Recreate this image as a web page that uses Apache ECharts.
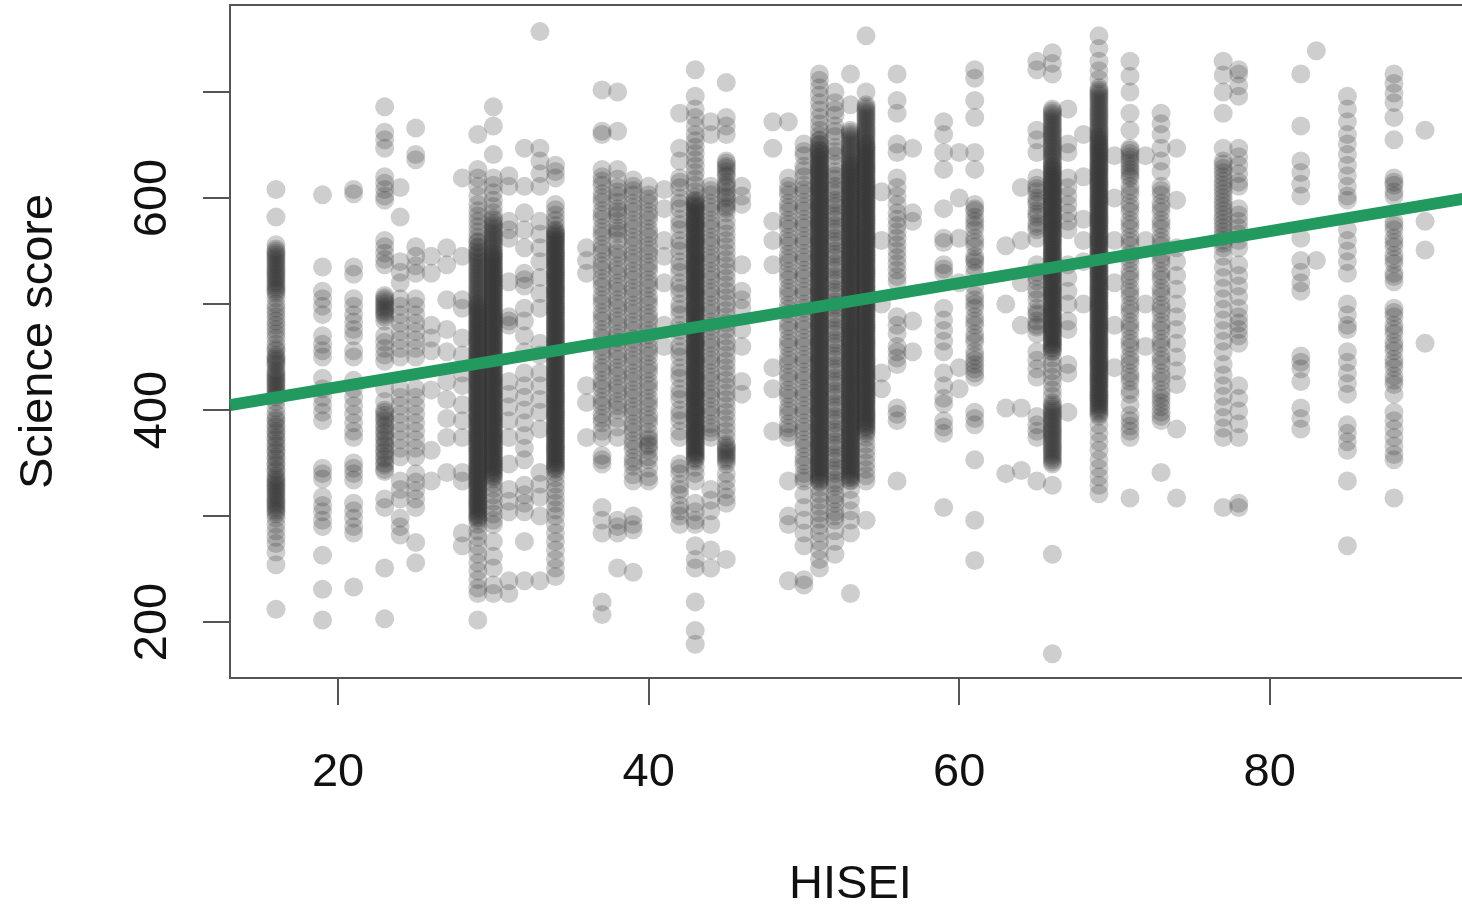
<!DOCTYPE html>
<html>
<head>
<meta charset="utf-8">
<script src="https://cdn.jsdelivr.net/npm/echarts@6/dist/echarts.min.js"></script>
<style>
  html, body { margin: 0; padding: 0; background: #fff; }
  #chart { width: 1462px; height: 906px; }
</style>
</head>
<body>
<div id="chart"></div>
<script>
// HISEI columns (x) and the science scores
const hisei = [16, 19, 21, 23, 24, 25, 26, 27, 28, 29, 30, 31, 32, 33, 34, 36, 37, 38, 39, 40,
  41, 42, 43, 44, 45, 46, 48, 49, 50, 51, 52, 53, 54, 55, 56, 57, 59, 60, 61, 63,
  64, 65, 66, 67, 68, 69, 70, 71, 72, 73, 74, 77, 78, 82, 83, 85, 88, 90];

const scores = [
  // 16
  [608, 582, 556, 552, 548, 544, 540, 536, 532, 528, 524, 520, 516, 512, 506, 500, 492, 484, 476, 468, 462, 456, 450, 446, 442, 438, 434, 430, 426, 422, 418, 414, 408, 402, 396, 390, 384, 378, 372, 366, 360, 354, 348, 342, 338, 334, 330, 326, 322, 318, 314, 310, 306, 302, 298, 292, 286, 280, 274, 266, 254, 212,
   550, 546, 542, 538, 534, 530, 526, 522, 518, 514, 510, 436, 432, 428, 424, 420, 416, 412, 336, 332, 328, 324, 320, 316, 312, 308, 304,
   496, 488, 480, 472, 458, 452, 448, 444, 392, 386, 380, 374, 368, 362, 356, 350, 344],
  // 19
  [603, 535, 512, 505, 498, 490, 470, 462, 456, 450, 430, 420, 412, 405, 398, 390, 345, 340, 335, 318, 310, 304, 296, 290, 263, 231, 202],
  // 21
  [608, 604, 535, 528, 505, 498, 490, 483, 476, 470, 456, 450, 428, 420, 412, 404, 396, 388, 380, 374, 350, 345, 340, 334, 312, 305, 298, 290, 284, 233],
  // 23
  [686, 662, 655, 647, 620, 614, 608, 602, 598, 560, 554, 548, 542, 537, 508, 504, 500, 496, 492, 488, 484, 470, 464, 458, 452, 446, 420, 408, 400, 395, 390, 384, 378, 372, 366, 360, 354, 348, 342, 316, 308, 251, 203,
   506, 502, 498, 494, 490, 398, 392, 386, 380, 374, 368, 362, 356, 350, 344],
  // 24
  [610, 582, 540, 530, 520, 505, 498, 490, 482, 474, 466, 458, 450, 420, 412, 404, 396, 388, 380, 372, 364, 356, 333, 325, 316, 298, 290, 282],
  // 25
  [666, 641, 636, 554, 545, 536, 529, 505, 498, 490, 482, 474, 466, 458, 450, 420, 412, 404, 396, 388, 380, 372, 364, 356, 340, 332, 324, 316, 308, 275, 256],
  // 26
  [545, 529, 480, 468, 456, 419, 362, 333],
  // 27
  [553, 537, 504, 476, 455, 427, 410, 392, 374, 341],
  // 28
  [619, 545, 504, 496, 468, 452, 435, 423, 405, 390, 374, 341, 333, 284, 272],
  // 29
  [660, 627, 619, 611, 602, 594, 588, 583, 578, 573, 568, 563, 558, 553, 548, 544, 540, 536, 532, 528, 524, 520, 516, 512, 508, 504, 500, 497, 494, 491, 488, 485, 482, 479, 476, 473, 470, 467, 464, 461, 458, 455, 452, 449, 446, 443, 440, 437, 434, 431, 428, 425, 422, 419, 416, 413, 410, 407, 404, 401, 398, 395, 392, 389, 386, 383, 380, 377, 374, 371, 368, 365, 362, 359, 356, 353, 350, 347, 344, 341, 338, 335, 332, 329, 326, 323, 320, 317, 314, 311, 308, 305, 302, 299, 296, 292, 286, 280, 272, 264, 256, 248, 240, 232, 227, 202,
   559, 554, 550, 546, 542, 538, 534, 530, 526, 522, 518, 514, 510, 506, 502, 499, 496, 493, 490, 487, 484, 481, 478, 475, 472, 469, 466, 463, 460, 457, 454, 451, 448, 445, 442, 439, 436, 433, 430, 427, 424, 421, 418, 415, 412, 409, 406, 403, 400, 397, 394, 391, 388, 385, 382, 379, 376, 373, 370, 367, 364, 361, 358, 355, 352, 349, 346, 343, 340, 337, 334, 331, 328, 325, 322, 319, 316, 313, 310, 307, 304, 301, 298],
  // 30
  [686, 668, 641, 619, 612, 605, 598, 592, 586, 581, 576, 572, 568, 564, 560, 556, 552, 548, 545, 542, 539, 536, 533, 530, 527, 524, 521, 518, 515, 512, 509, 506, 503, 500, 497, 494, 491, 488, 485, 482, 479, 476, 473, 470, 467, 464, 461, 458, 455, 452, 449, 446, 443, 440, 437, 434, 431, 428, 425, 422, 419, 416, 413, 410, 407, 404, 401, 398, 395, 392, 389, 386, 383, 380, 377, 374, 371, 368, 365, 362, 359, 356, 353, 350, 347, 344, 341, 338, 335, 331, 326, 320, 314, 308, 302, 296, 292, 276, 262, 251, 235, 227,
   579, 574, 570, 566, 562, 558, 554, 550, 547, 544, 541, 538, 535, 532, 529, 526, 523, 520, 517, 514, 511, 508, 505, 502, 499, 496, 493, 490, 487, 484, 481, 478, 475, 472, 469, 466, 463, 460, 457, 454, 451, 448, 445, 442, 439, 436, 433, 430, 427, 424, 421, 418, 415, 412, 409, 406, 403, 400, 397, 394, 391, 388, 385, 382, 379, 376, 373, 370, 367, 364, 361, 358, 355, 352, 349, 346, 343, 340, 337],
  // 31
  [621, 611, 578, 570, 562, 521, 488, 484, 480, 427, 415, 403, 390, 374, 349, 325, 314, 304, 239, 227],
  // 32
  [647, 611, 586, 570, 553, 529, 523, 517, 496, 484, 470, 455, 435, 423, 412, 400, 388, 376, 364, 353, 329, 320, 312, 304, 276, 239],
  // 33
  [757, 647, 635, 623, 611, 578, 566, 553, 540, 525, 510, 496, 463, 452, 435, 423, 410, 398, 382, 341, 330, 318, 300, 239],
  // 34
  [631, 625, 619, 594, 589, 584, 579, 574, 570, 567, 564, 561, 558, 555, 552, 549, 546, 543, 540, 537, 534, 531, 528, 525, 522, 519, 516, 513, 510, 507, 504, 501, 498, 495, 492, 489, 486, 483, 480, 477, 474, 471, 468, 465, 462, 459, 456, 453, 450, 447, 444, 441, 438, 435, 432, 429, 426, 423, 420, 417, 414, 411, 408, 405, 402, 399, 396, 393, 390, 387, 384, 381, 378, 375, 372, 369, 366, 363, 360, 357, 354, 351, 348, 345, 341, 336, 330, 324, 318, 312, 306, 300, 292, 284, 276, 268, 259, 251, 243,
   569, 566, 563, 560, 557, 554, 551, 548, 545, 542, 539, 536, 533, 530, 527, 524, 521, 518, 515, 512, 509, 506, 503, 500, 497, 494, 491, 488, 485, 482, 479, 476, 473, 470, 467, 464, 461, 458, 455, 452, 449, 446, 443, 440, 437, 434, 431, 428, 425, 422, 419, 416, 413, 410, 407, 404, 401, 398, 395, 392, 389, 386, 383, 380, 377, 374, 371, 368, 365, 362, 359, 356, 353, 350, 347, 344],
  // 36
  [553, 541, 529, 423, 407, 374],
  // 37
  [702, 663, 660, 627, 620, 612, 604, 596, 588, 580, 572, 564, 556, 548, 540, 532, 524, 516, 508, 500, 492, 484, 476, 468, 460, 452, 444, 436, 428, 420, 412, 404, 396, 388, 380, 374, 357, 353, 349, 308, 296, 284, 219, 207,
   616, 600, 584, 568, 552, 536, 520, 504, 488, 472, 456, 440, 424, 408, 392],
  // 38
  [700, 663, 627, 618, 610, 602, 596, 590, 584, 578, 572, 566, 560, 552, 544, 536, 528, 520, 512, 504, 496, 488, 480, 472, 464, 456, 448, 440, 432, 424, 416, 408, 400, 392, 384, 374, 296, 290, 284, 251,
   606, 587, 569, 548, 532, 516, 500, 484, 468, 452, 436, 420, 404],
  // 39
  [617, 611, 603, 595, 587, 579, 571, 563, 555, 547, 539, 531, 523, 515, 507, 499, 491, 483, 475, 467, 459, 451, 443, 435, 427, 419, 411, 403, 395, 387, 379, 371, 363, 355, 347, 339, 333, 300, 292, 287, 247,
   607, 591, 575, 559, 543, 527, 511, 495, 479, 463, 447, 431, 415, 399, 383, 367, 351],
  // 40
  [611, 603, 595, 587, 579, 571, 563, 555, 547, 539, 531, 523, 515, 507, 499, 491, 483, 475, 467, 459, 451, 443, 435, 427, 419, 411, 403, 395, 387, 379, 374, 368, 362, 356, 353, 345, 337, 333,
   599, 583, 567, 551, 535, 519, 503, 487, 471, 455, 439, 423, 407, 391, 372, 366],
  // 41
  [608, 590, 560, 545, 520, 480, 460],
  // 42
  [680, 647, 635, 619, 610, 600, 590, 580, 570, 560, 550, 540, 530, 520, 510, 500, 490, 480, 470, 460, 450, 440, 430, 420, 410, 400, 390, 380, 374, 349, 340, 330, 320, 310, 300, 292,
   615, 595, 575, 555, 535, 515, 495, 475, 455, 435, 415, 395, 345, 325, 305],
  // 43
  [721, 696, 684, 676, 668, 660, 654, 648, 642, 636, 630, 624, 618, 612, 606, 601, 598, 595, 592, 589, 586, 583, 580, 577, 574, 571, 568, 565, 562, 559, 556, 553, 550, 547, 544, 541, 538, 535, 532, 529, 526, 523, 520, 517, 514, 511, 508, 505, 502, 499, 496, 493, 490, 487, 484, 481, 478, 475, 472, 469, 466, 463, 460, 457, 454, 451, 448, 445, 442, 439, 436, 433, 430, 427, 424, 421, 418, 415, 412, 409, 406, 403, 400, 397, 394, 391, 388, 385, 382, 379, 376, 373, 370, 367, 364, 361, 358, 355, 352, 346, 340, 333, 312, 304, 296, 292, 272, 259, 251, 219, 192, 179,
   597, 594, 591, 588, 585, 582, 579, 576, 573, 570, 567, 564, 561, 558, 555, 552, 549, 546, 543, 540, 537, 534, 531, 528, 525, 522, 519, 516, 513, 510, 507, 504, 501, 498, 495, 492, 489, 486, 483, 480, 477, 474, 471, 468, 465, 462, 459, 456, 453, 450, 447, 444, 441, 438, 435, 432, 429, 426, 423, 420, 417, 414, 411, 408, 405, 402, 399, 396, 393, 390, 387, 384, 381, 378, 375, 372, 369, 366, 363, 360, 357, 354],
  // 44
  [672, 660, 611, 603, 595, 587, 579, 571, 563, 555, 547, 539, 531, 523, 515, 507, 499, 491, 483, 475, 467, 459, 451, 443, 435, 427, 419, 411, 403, 395, 387, 379, 374, 325, 315, 305, 292, 268, 251,
   607, 591, 575, 559, 543, 527, 511, 495, 479, 463, 447, 431, 415, 399, 383],
  // 45
  [709, 676, 668, 660, 635, 630, 625, 620, 615, 610, 605, 600, 595, 590, 586, 578, 572, 566, 560, 554, 548, 542, 536, 530, 524, 518, 512, 506, 500, 494, 488, 482, 476, 470, 464, 458, 452, 446, 440, 434, 428, 422, 416, 410, 404, 398, 392, 386, 380, 374, 368, 366, 362, 358, 354, 349, 340, 333, 325, 318, 312, 259,
   633, 628, 622, 612, 602, 592, 364, 360, 356, 352],
  // 46
  [611, 602, 594, 537, 512, 504, 496, 476, 460, 427, 415],
  // 48
  [672, 647, 578, 560, 537, 440, 420, 380],
  // 49
  [672, 619, 611, 603, 595, 587, 579, 571, 563, 555, 547, 539, 531, 523, 515, 507, 499, 491, 483, 475, 467, 459, 451, 443, 435, 427, 419, 411, 403, 395, 387, 379, 374, 333, 300, 292, 239,
   607, 591, 575, 559, 543, 527, 511, 495, 479, 463, 447, 431, 415, 399, 383],
  // 50
  [651, 640, 630, 620, 612, 604, 596, 588, 580, 572, 564, 556, 548, 540, 532, 524, 516, 508, 500, 492, 484, 476, 468, 460, 452, 444, 436, 428, 420, 412, 404, 396, 388, 380, 372, 364, 356, 348, 340, 333, 320, 308, 296, 284, 272, 240, 235,
   644, 626, 608, 592, 576, 560, 544, 528, 512, 496, 480, 464, 448, 432, 416, 400, 384, 368, 352, 336],
  // 51
  [717, 711, 704, 697, 690, 683, 676, 670, 664, 659, 655, 651, 647, 644, 641, 638, 635, 632, 629, 626, 623, 620, 617, 614, 611, 608, 605, 602, 599, 596, 593, 590, 587, 584, 581, 578, 575, 572, 569, 566, 563, 560, 557, 554, 551, 548, 545, 542, 539, 536, 533, 530, 527, 524, 521, 518, 515, 512, 509, 506, 503, 500, 497, 494, 491, 488, 485, 482, 479, 476, 473, 470, 467, 464, 461, 458, 455, 452, 449, 446, 443, 440, 437, 434, 431, 428, 425, 422, 419, 416, 413, 410, 407, 404, 401, 398, 395, 392, 389, 386, 383, 380, 377, 374, 371, 368, 365, 362, 359, 356, 353, 350, 347, 344, 341, 338, 335, 332, 327, 321, 315, 309, 303, 297, 291, 284, 276, 268, 259, 251,
   654, 650, 645, 642, 639, 636, 633, 630, 627, 624, 621, 618, 615, 612, 609, 606, 603, 600, 597, 594, 591, 588, 585, 582, 579, 576, 573, 570, 567, 564, 561, 558, 555, 552, 549, 546, 543, 540, 537, 534, 531, 528, 525, 522, 519, 516, 513, 510, 507, 504, 501, 498, 495, 492, 489, 486, 483, 480, 477, 474, 471, 468, 465, 462, 459, 456, 453, 450, 447, 444, 441, 438, 435, 432, 429, 426, 423, 420, 417, 414, 411, 408, 405, 402, 399, 396, 393, 390, 387, 384, 381, 378, 375, 372, 369, 366, 363, 360, 357, 354, 351, 348, 345, 342, 339, 336, 333],
  // 52
  [700, 690, 678, 668, 658, 648, 640, 632, 625, 618, 611, 604, 598, 592, 586, 580, 574, 568, 562, 556, 550, 544, 538, 532, 526, 520, 514, 508, 502, 496, 490, 484, 478, 472, 466, 460, 454, 448, 442, 436, 430, 424, 418, 412, 406, 400, 394, 388, 382, 376, 370, 364, 358, 352, 346, 340, 334, 328, 320, 312, 304, 296, 286, 276, 264,
   683, 663, 644, 621, 608, 595, 583, 571, 559, 547, 535, 523, 511, 499, 487, 475, 463, 451, 439, 427, 415, 403, 391, 379, 367, 355, 343, 331, 316, 300],
  // 53
  [717, 688, 664, 660, 656, 652, 648, 644, 640, 636, 633, 630, 627, 624, 621, 618, 615, 612, 609, 606, 603, 600, 597, 594, 591, 588, 585, 582, 579, 576, 573, 570, 567, 564, 561, 558, 555, 552, 549, 546, 543, 540, 537, 534, 531, 528, 525, 522, 519, 516, 513, 510, 507, 504, 501, 498, 495, 492, 489, 486, 483, 480, 477, 474, 471, 468, 465, 462, 459, 456, 453, 450, 447, 444, 441, 438, 435, 432, 429, 426, 423, 420, 417, 414, 411, 408, 405, 402, 399, 396, 393, 390, 387, 384, 381, 378, 375, 372, 369, 366, 363, 360, 357, 354, 351, 348, 345, 342, 339, 336, 333, 325, 315, 305, 296, 284, 227,
   662, 658, 654, 650, 646, 642, 638, 634, 631, 628, 625, 622, 619, 616, 613, 610, 607, 604, 601, 598, 595, 592, 589, 586, 583, 580, 577, 574, 571, 568, 565, 562, 559, 556, 553, 550, 547, 544, 541, 538, 535, 532, 529, 526, 523, 520, 517, 514, 511, 508, 505, 502, 499, 496, 493, 490, 487, 484, 481, 478, 475, 472, 469, 466, 463, 460, 457, 454, 451, 448, 445, 442, 439, 436, 433, 430, 427, 424, 421, 418, 415, 412, 409, 406, 403, 400, 397, 394, 391, 388, 385, 382, 379, 376, 373, 370, 367, 364, 361, 358, 355, 352, 349, 346, 343, 340, 337, 334],
  // 54
  [753, 700, 688, 684, 680, 676, 672, 668, 664, 660, 656, 652, 649, 646, 643, 640, 637, 634, 631, 628, 625, 622, 619, 616, 613, 610, 607, 604, 601, 598, 595, 592, 589, 586, 583, 580, 577, 574, 571, 568, 565, 562, 559, 556, 553, 550, 547, 544, 541, 538, 535, 532, 529, 526, 523, 520, 517, 514, 511, 508, 505, 502, 499, 496, 493, 490, 487, 484, 481, 478, 475, 472, 469, 466, 463, 460, 457, 454, 451, 448, 445, 442, 439, 436, 433, 430, 427, 424, 421, 418, 415, 412, 409, 406, 403, 400, 397, 394, 391, 388, 385, 382, 378, 374, 368, 362, 356, 350, 344, 338, 333, 296,
   686, 682, 678, 674, 670, 666, 662, 658, 654, 651, 648, 645, 642, 639, 636, 633, 630, 627, 624, 621, 618, 615, 612, 609, 606, 603, 600, 597, 594, 591, 588, 585, 582, 579, 576, 573, 570, 567, 564, 561, 558, 555, 552, 549, 546, 543, 540, 537, 534, 531, 528, 525, 522, 519, 516, 513, 510, 507, 504, 501, 498, 495, 492, 489, 486, 483, 480, 477, 474, 471, 468, 465, 462, 459, 456, 453, 450, 447, 444, 441, 438, 435, 432, 429, 426, 423, 420, 417, 414, 411, 408, 405, 402, 399, 396, 393, 390, 387, 384, 380],
  // 55
  [606, 560, 500, 435, 420],
  // 56
  [717, 692, 680, 651, 643, 619, 610, 602, 594, 586, 580, 574, 568, 562, 556, 550, 544, 538, 532, 526, 521, 488, 480, 472, 460, 455, 449, 443, 402, 396, 390, 333],
  // 57
  [647, 586, 578, 484, 455],
  // 59
  [672, 660, 643, 627, 590, 562, 558, 537, 533, 529, 496, 485, 475, 465, 455, 435, 423, 411, 406, 390, 384, 378, 308],
  // 60
  [643, 600, 562, 520, 440, 420],
  // 61
  [721, 713, 692, 676, 643, 627, 594, 588, 582, 578, 570, 562, 554, 545, 540, 535, 529, 517, 508, 500, 496, 488, 480, 472, 464, 455, 447, 443, 439, 435, 431, 398, 392, 386, 353, 296, 258,
   590, 574, 558, 542, 504, 484, 468, 451],
  // 63
  [555, 500, 402, 340],
  // 64
  [610, 560, 520, 480, 402, 343],
  // 65
  [729, 721, 664, 655, 643, 619, 612, 606, 600, 594, 588, 582, 576, 570, 562, 537, 530, 522, 514, 504, 496, 490, 484, 478, 472, 455, 447, 439, 431, 394, 386, 380, 374, 333,
   609, 597, 585, 573, 526, 510, 492, 480],
  // 66
  [737, 727, 717, 684, 680, 676, 672, 668, 664, 660, 656, 652, 648, 644, 640, 636, 632, 629, 626, 623, 620, 617, 614, 611, 608, 605, 602, 599, 596, 593, 590, 587, 584, 581, 578, 575, 572, 569, 566, 563, 560, 557, 554, 551, 548, 545, 542, 539, 536, 533, 530, 527, 524, 521, 518, 515, 512, 509, 506, 503, 500, 497, 494, 491, 488, 485, 482, 479, 476, 473, 470, 467, 464, 461, 458, 455, 449, 443, 437, 431, 425, 419, 413, 407, 403, 399, 395, 391, 387, 383, 379, 375, 371, 367, 363, 359, 355, 351, 349, 329, 264, 170,
   682, 678, 674, 670, 666, 662, 658, 654, 650, 646, 642, 638, 634, 630, 627, 624, 621, 618, 615, 612, 609, 606, 603, 600, 597, 594, 591, 588, 585, 582, 579, 576, 573, 570, 567, 564, 561, 558, 555, 552, 549, 546, 543, 540, 537, 534, 531, 528, 525, 522, 519, 516, 513, 510, 507, 504, 501, 498, 495, 492, 489, 486, 483, 480, 477, 474, 471, 468, 465, 462, 459, 456, 405, 401, 397, 393, 389, 385, 381, 377, 373, 369, 365, 361, 357, 353],
  // 67
  [684, 651, 643, 619, 610, 602, 594, 586, 578, 570, 537, 525, 512, 500, 484, 476, 443, 435, 398],
  // 68
  [660, 620, 580, 560, 540, 500],
  // 69
  [753, 741, 729, 720, 712, 704, 700, 696, 692, 688, 684, 680, 676, 672, 668, 664, 660, 657, 654, 651, 648, 645, 642, 639, 636, 633, 630, 627, 624, 621, 618, 615, 612, 609, 606, 603, 600, 597, 594, 591, 588, 585, 582, 579, 576, 573, 570, 567, 564, 561, 558, 555, 552, 549, 546, 543, 540, 537, 534, 531, 528, 525, 522, 519, 516, 513, 510, 507, 504, 501, 498, 495, 492, 489, 486, 483, 480, 477, 474, 471, 468, 465, 462, 459, 456, 453, 450, 447, 444, 441, 438, 435, 432, 429, 426, 423, 420, 417, 414, 411, 408, 405, 402, 398, 394, 386, 378, 370, 362, 353, 345, 337, 329, 321,
   702, 698, 694, 690, 686, 682, 678, 674, 670, 666, 662, 658, 655, 652, 649, 646, 643, 640, 637, 634, 631, 628, 625, 622, 619, 616, 613, 610, 607, 604, 601, 598, 595, 592, 589, 586, 583, 580, 577, 574, 571, 568, 565, 562, 559, 556, 553, 550, 547, 544, 541, 538, 535, 532, 529, 526, 523, 520, 517, 514, 511, 508, 505, 502, 499, 496, 493, 490, 487, 484, 481, 478, 475, 472, 469, 466, 463, 460, 457, 454, 451, 448, 445, 442, 439, 436, 433, 430, 427, 424, 421, 418, 415, 412, 409, 406, 403, 400, 396],
  // 70
  [640, 600, 560, 520, 480, 440],
  // 71
  [729, 715, 700, 680, 664, 647, 642, 636, 630, 624, 619, 611, 603, 595, 587, 579, 571, 563, 555, 547, 539, 531, 523, 515, 507, 499, 491, 483, 475, 467, 459, 451, 443, 435, 427, 419, 415, 405, 395, 390, 385, 380, 374, 317,
   645, 639, 633, 627, 621, 607, 591, 575, 559, 543, 527, 511, 495, 479, 463, 447, 431],
  // 72
  [640, 560, 500, 460],
  // 73
  [680, 670, 660, 647, 635, 625, 611, 603, 595, 587, 579, 571, 563, 555, 547, 539, 531, 523, 515, 507, 499, 491, 483, 475, 467, 459, 451, 443, 435, 427, 419, 411, 407, 403, 398, 394, 390, 341,
   607, 591, 575, 559, 543, 527, 511, 495, 479, 463, 447, 431, 415],
  // 74
  [647, 598, 553, 540, 527, 514, 500, 488, 476, 463, 450, 437, 424, 382, 317],
  // 77
  [729, 716, 700, 680, 647, 635, 628, 620, 612, 604, 596, 588, 580, 572, 564, 557, 553, 545, 535, 525, 515, 505, 495, 485, 475, 465, 455, 443, 433, 423, 413, 403, 393, 383, 374, 308,
   632, 624, 616, 608, 600, 592, 584, 576, 568, 560],
  // 78
  [721, 717, 706, 696, 647, 639, 631, 623, 615, 611, 590, 584, 578, 572, 566, 560, 553, 537, 527, 517, 507, 496, 488, 482, 476, 470, 463, 423, 411, 399, 387, 374, 312, 308],
  // 82
  [717, 668, 635, 624, 613, 602, 562, 541, 530, 520, 512, 451, 445, 439, 427, 402, 392, 382],
  // 83
  [739, 541],
  // 85
  [696, 684, 672, 660, 651, 641, 631, 621, 611, 602, 598, 570, 560, 550, 540, 529, 500, 490, 480, 476, 455, 445, 435, 425, 415, 386, 378, 370, 362, 333, 272],
  // 88
  [717, 708, 699, 690, 676, 655, 619, 612, 606, 602, 578, 570, 562, 554, 546, 538, 529, 526, 521, 496, 488, 480, 472, 464, 456, 448, 440, 432, 424, 415, 398, 390, 382, 374, 366, 358, 353, 317,
   615, 574, 558, 542, 492, 476, 460, 444, 428],
  // 90
  [664, 578, 551, 463]
];

// fitted regression line, read at the two ends of the x range
const fitX = [13.04, 92.96];
const fitY = [404.7, 600.5];

const xTicks = [20, 40, 60, 80];
const yTicks = [200, 300, 400, 500, 600, 700];
const yLabels = [200, 400, 600];

const points = [];
hisei.forEach((h, i) => {
  scores[i].forEach(s => points.push([h, s]));
});

const FONT = '"Liberation Sans", Arial, Helvetica, sans-serif';
const chart = echarts.init(document.getElementById('chart'), null, { renderer: 'canvas' });

const option = {
  animation: false,
  backgroundColor: '#fff',
  grid: {
    left: 230, right: -9, top: 5, bottom: 228,
    show: true, borderColor: '#555', borderWidth: 2,
    containLabel: false, outerBoundsMode: 'none'
  },
  xAxis: {
    type: 'value', min: 13.04, max: 92.96,
    splitLine: { show: false },
    axisLine: { show: false },
    axisTick: { show: true, length: 27, customValues: xTicks, lineStyle: { color: '#555', width: 2 } },
    axisLabel: { customValues: xTicks, margin: 72, fontSize: 47, color: '#111', fontFamily: FONT },
    name: 'HISEI', nameLocation: 'middle', nameGap: 184,
    nameTextStyle: { fontSize: 47, color: '#111', fontFamily: FONT }
  },
  yAxis: {
    type: 'value', min: 147.2, max: 782.1,
    splitLine: { show: false },
    axisLine: { show: false },
    axisTick: { show: true, length: 27, customValues: yTicks, lineStyle: { color: '#555', width: 2 } },
    axisLabel: { customValues: yLabels, rotate: 90, margin: 53, fontSize: 47, color: '#111', fontFamily: FONT },
    name: 'Science score', nameLocation: 'middle', nameGap: 167, nameRotate: 90,
    nameTextStyle: { fontSize: 47, color: '#111', fontFamily: FONT }
  },
  series: [
    {
      type: 'scatter',
      data: points,
      symbolSize: 19,
      silent: true,
      itemStyle: { color: '#333333', opacity: 0.24 }
    },
    {
      type: 'line',
      data: [[fitX[0], fitY[0]], [fitX[1], fitY[1]]],
      symbol: 'none',
      silent: true,
      z: 3,
      lineStyle: { color: '#22995f', width: 12 }
    }
  ]
};

chart.setOption(option);
</script>
</body>
</html>
